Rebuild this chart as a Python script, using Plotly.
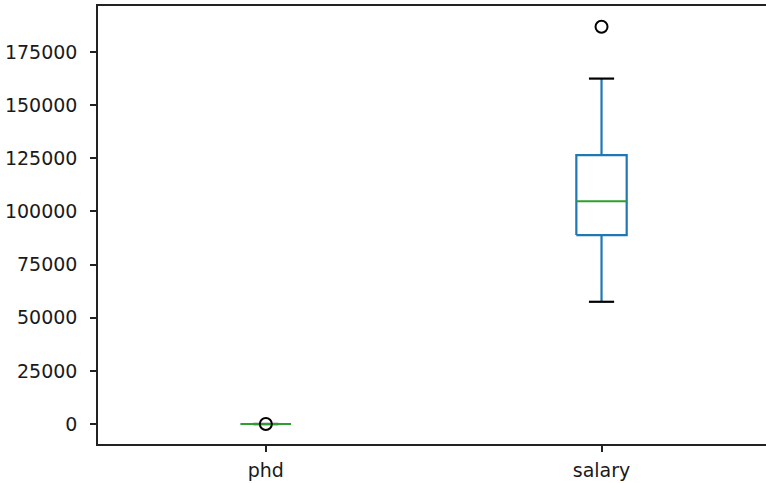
import plotly.graph_objects as go

categories = ["phd", "salary"]
positions = [1, 2]
lower_whisker = [1, 57500]
q1 = [1, 88900]
median = [1, 104800]
q3 = [1, 126500]
upper_whisker = [1, 162500]
outliers = [[0], [186900]]
y_ticks = [0, 25000, 50000, 75000, 100000, 125000, 150000, 175000]

BLUE = "#1f77b4"
GREEN = "#2ca02c"
BOX_HALF = 0.075
CAP_HALF = 0.0375

fig = go.Figure()

for i, p in enumerate(positions):
    fig.add_trace(go.Scatter(
        x=[p, p, None, p, p],
        y=[q1[i], lower_whisker[i], None, q3[i], upper_whisker[i]],
        mode="lines", line=dict(color=BLUE, width=2.2), hoverinfo="skip", showlegend=False))
    fig.add_trace(go.Scatter(
        x=[p - CAP_HALF, p + CAP_HALF, None, p - CAP_HALF, p + CAP_HALF],
        y=[lower_whisker[i], lower_whisker[i], None, upper_whisker[i], upper_whisker[i]],
        mode="lines", line=dict(color="black", width=2.2), hoverinfo="skip", showlegend=False))
    fig.add_trace(go.Scatter(
        x=[p - BOX_HALF, p + BOX_HALF, p + BOX_HALF, p - BOX_HALF, p - BOX_HALF],
        y=[q1[i], q1[i], q3[i], q3[i], q1[i]],
        mode="lines", line=dict(color=BLUE, width=2.2), hoverinfo="skip", showlegend=False))
    fig.add_trace(go.Scatter(
        x=[p - BOX_HALF, p + BOX_HALF],
        y=[median[i], median[i]],
        mode="lines", line=dict(color=GREEN, width=2.2), hoverinfo="skip", showlegend=False))
    fig.add_trace(go.Scatter(
        x=[p] * len(outliers[i]), y=outliers[i], mode="markers",
        marker=dict(symbol="circle-open", size=12, color="black", line=dict(width=2)),
        hoverinfo="skip", showlegend=False))

fig.update_layout(
    width=766, height=483,
    margin=dict(l=98, r=0, t=6, b=39),
    plot_bgcolor="white", paper_bgcolor="white",
    font=dict(family="DejaVu Sans", size=19, color="#1a1a1a"),
    xaxis=dict(range=[0.5, 2.49], tickvals=positions, ticktext=categories,
               showgrid=False, zeroline=False, showline=True, linecolor="#222222",
               linewidth=1.5, mirror=True, ticks="outside", ticklen=6, tickwidth=1.5,
               tickcolor="#222222", ticklabelstandoff=2),
    yaxis=dict(range=[-9400, 196650], tickvals=y_ticks,
               ticktext=[str(v) for v in y_ticks],
               showgrid=False, zeroline=False, showline=True, linecolor="#222222",
               linewidth=1.5, mirror=False, ticks="outside", ticklen=6, tickwidth=1.5,
               tickcolor="#222222", ticklabelstandoff=9),
)

fig.write_html("out.html", config={"displayModeBar": False},
               post_script="document.body.style.margin='0';")
